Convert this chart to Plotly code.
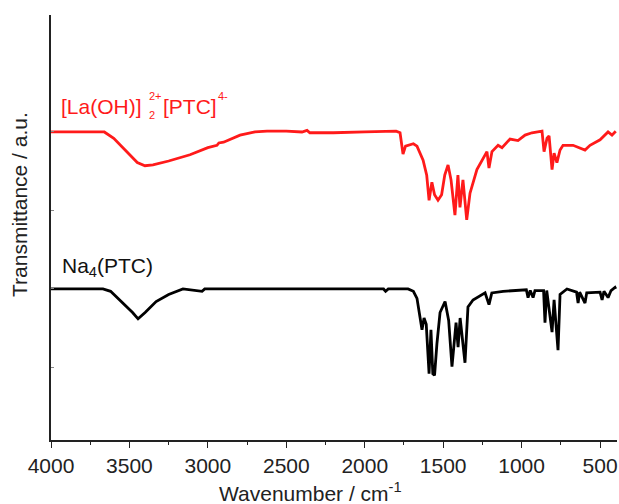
import plotly.graph_objects as go

# ---- data ----
la_wn = [4000, 3800, 3660, 3600, 3520, 3450, 3401, 3350, 3250, 3114, 3000, 2942, 2930, 2900, 2795,
         2700, 2623, 2500, 2400, 2368, 2350, 2200, 2000, 1850, 1800, 1775, 1756, 1740, 1724, 1690,
         1667, 1628, 1605, 1590, 1572, 1555, 1533, 1510, 1490, 1469, 1450, 1425, 1406, 1393, 1374,
         1350, 1329, 1300, 1285, 1221, 1208, 1189, 1150, 1125, 1074, 1023, 978, 934, 870, 857,
         838, 825, 806, 793, 775, 755, 736, 672, 628, 596, 564, 500, 449, 424, 400]
la_t = [4.00, 4.00, 4.00, 3.92, 3.75, 3.61, 3.57, 3.58, 3.63, 3.71, 3.80, 3.83, 3.86, 3.87, 3.96,
        4.00, 4.01, 4.01, 4.00, 4.02, 3.99, 3.99, 4.00, 4.01, 4.01, 3.99, 3.72, 3.82, 3.83, 3.85,
        3.82, 3.64, 3.45, 3.13, 3.36, 3.20, 3.13, 3.20, 3.45, 3.58, 3.39, 2.94, 3.45, 3.04, 3.39,
        2.88, 3.22, 3.44, 3.52, 3.75, 3.54, 3.75, 3.83, 3.80, 3.91, 3.89, 3.96, 3.99, 4.01, 3.75,
        3.92, 3.95, 3.52, 3.73, 3.61, 3.77, 3.83, 3.83, 3.80, 3.77, 3.83, 3.90, 4.00, 3.96, 4.01]

na_wn = [4000, 3669, 3620, 3550, 3480, 3445, 3400, 3330, 3250, 3159, 3037, 3020, 2500, 1880, 1867,
         1850, 1724, 1690, 1667, 1648, 1635, 1622, 1608, 1590, 1578, 1566, 1555, 1540, 1520, 1488,
         1465, 1444, 1418, 1405, 1392, 1361, 1342, 1310, 1278, 1233, 1208, 1190, 1118, 970, 959,
         945, 927, 915, 860, 851, 840, 806, 793, 768, 755, 711, 650, 640, 630, 596, 585, 500,
         487, 475, 449, 430, 405, 400]
na_t = [2.00, 2.00, 1.97, 1.84, 1.70, 1.62, 1.70, 1.84, 1.93, 2.00, 1.97, 2.00, 2.00, 2.00, 1.97,
        2.00, 2.00, 1.97, 1.88, 1.63, 1.48, 1.63, 1.55, 0.92, 1.48, 0.92, 0.90, 1.30, 1.70, 1.84,
        1.60, 1.01, 1.57, 1.26, 1.63, 1.06, 1.77, 1.86, 1.90, 1.95, 1.80, 1.95, 1.97, 1.99, 1.89,
        1.98, 1.89, 1.98, 1.98, 1.57, 1.98, 1.45, 1.86, 1.22, 1.93, 2.00, 1.96, 1.82, 1.96, 1.82,
        1.95, 1.96, 1.86, 1.97, 1.89, 1.98, 2.02, 2.00]

x_ticks = [4000, 3500, 3000, 2500, 2000, 1500, 1000, 500]

W, H = 619, 504
L, R, T, B = 51, 2, 15, 64
PW, PH = W - L - R, H - T - B
FONT = "Liberation Sans, Arial, sans-serif"
RED = "#ff1a1a"


def px(x):
    return (x - L) / PW


def py(y):
    return (H - B - y) / PH


fig = go.Figure()
fig.add_trace(go.Scatter(x=la_wn, y=la_t, mode="lines",
                         line=dict(color=RED, width=2.8), hoverinfo="skip"))
fig.add_trace(go.Scatter(x=na_wn, y=na_t, mode="lines",
                         line=dict(color="#000000", width=2.8), hoverinfo="skip"))

ann = []
ann.append(dict(x=px(59), y=py(106), text="[La(OH)]", font=dict(size=21, color=RED)))
ann.append(dict(x=px(147), y=py(96), text="2+", font=dict(size=11, color=RED)))
ann.append(dict(x=px(147), y=py(115), text="2", font=dict(size=11, color=RED)))
ann.append(dict(x=px(161), y=py(106), text="[PTC]", font=dict(size=21, color=RED)))
ann.append(dict(x=px(216), y=py(96), text="4-", font=dict(size=11, color=RED)))
ann.append(dict(x=px(60), y=py(267), text="Na<sub>4</sub>(PTC)", font=dict(size=21, color="#111111")))
for a in ann:
    a.update(xref="paper", yref="paper", xanchor="left", yanchor="middle", showarrow=False)

ann.append(dict(x=px(20), y=py(205), xref="paper", yref="paper", text="Transmittance / a.u.",
                textangle=-90, showarrow=False, xanchor="center", yanchor="middle",
                font=dict(size=21, color="#222222")))
ann.append(dict(x=px(310), y=py(492), xref="paper", yref="paper", text="Wavenumber / cm<sup>-1</sup>",
                showarrow=False, xanchor="center", yanchor="middle",
                font=dict(size=21, color="#222222")))

fig.update_layout(
    width=W, height=H,
    margin=dict(l=L, r=R, t=T, b=B),
    paper_bgcolor="white", plot_bgcolor="white",
    showlegend=False,
    font=dict(family=FONT, color="#222222"),
    annotations=ann,
    xaxis=dict(range=[4000, 392], tickvals=x_ticks, ticktext=[str(v) for v in x_ticks],
               showgrid=False, zeroline=False, showline=True, linecolor="#222222", linewidth=1.5,
               ticks="outside", ticklen=6, tickwidth=1.2, tickcolor="#222222",
               tickfont=dict(size=21, color="#222222"),
               minor=dict(tickvals=[3750, 3250, 2750, 2250, 1750, 1250, 750], ticks="outside",
                          ticklen=3, tickcolor="#222222", tickwidth=1)),
    yaxis=dict(range=[0.076, 5.49], tickvals=[1, 2, 3, 4], showticklabels=False,
               showgrid=False, zeroline=False, showline=True, linecolor="#222222", linewidth=1.5,
               ticks="inside", ticklen=3, tickcolor="#888888", tickwidth=1),
)

fig.write_html("out.html", config={"displayModeBar": False},
               post_script="document.body.style.margin='0';document.body.style.overflow='hidden';")
